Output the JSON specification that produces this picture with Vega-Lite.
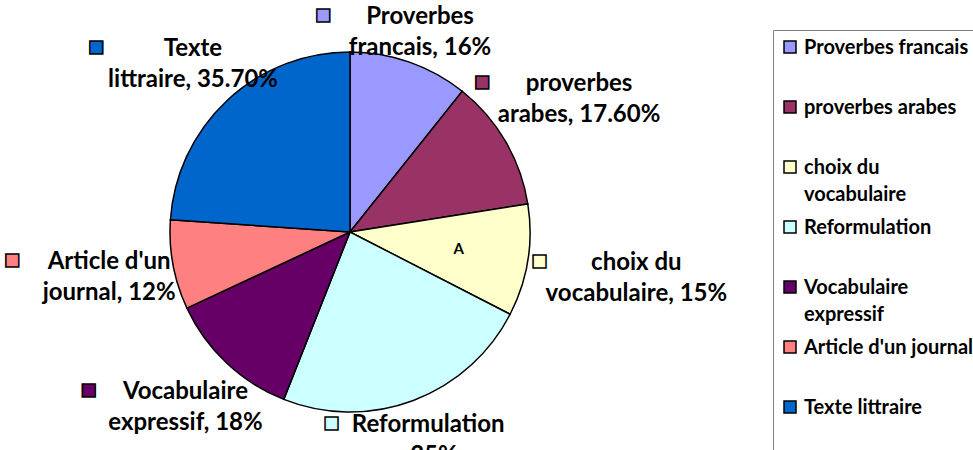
{
  "$schema": "https://vega.github.io/schema/vega-lite/v6.json",
  "width": 700,
  "height": 464,
  "padding": 0,
  "background": "white",
  "config": {"view": {"stroke": null}, "font": "Lato"},
  "data": {
    "values": [
      {"rank": 1, "cat": "Proverbes francais", "value": 16, "label": "Proverbes\nfrancais, 16%", "note": ""},
      {"rank": 2, "cat": "proverbes arabes", "value": 17.6, "label": "proverbes\narabes, 17.60%", "note": ""},
      {"rank": 3, "cat": "choix du vocabulaire", "value": 15, "label": "choix du\nvocabulaire, 15%", "note": "A"},
      {"rank": 4, "cat": "Reformulation", "value": 35, "label": "Reformulation\n, 35%", "note": ""},
      {"rank": 5, "cat": "Vocabulaire expressif", "value": 18, "label": "Vocabulaire\nexpressif, 18%", "note": ""},
      {"rank": 6, "cat": "Article d'un journal", "value": 12, "label": "Article d'un\njournal, 12%", "note": ""},
      {"rank": 7, "cat": "Texte littraire", "value": 35.7, "label": "Texte\nlittraire, 35.70%", "note": ""}
    ]
  },
  "encoding": {
    "theta": {"field": "value", "type": "quantitative", "stack": true},
    "order": {"field": "rank", "type": "ordinal"},
    "detail": {"field": "cat", "type": "nominal"}
  },
  "layer": [
    {
      "mark": {"type": "arc", "outerRadius": 180, "stroke": "black", "strokeWidth": 1.5},
      "encoding": {
        "color": {
          "field": "cat",
          "type": "nominal",
          "scale": {
            "domain": ["Proverbes francais", "proverbes arabes", "choix du vocabulaire", "Reformulation", "Vocabulaire expressif", "Article d'un journal", "Texte littraire"],
            "range": ["#9999FF", "#993366", "#FFFFCC", "#CCFFFF", "#660066", "#FF8080", "#0066CC"]
          },
          "legend": {
            "title": null,
            "orient": "none",
            "legendX": 773,
            "legendY": 30,
            "direction": "vertical",
            "symbolType": "square",
            "symbolSize": 144,
            "symbolStrokeColor": "black",
            "symbolStrokeWidth": 1.5,
            "labelFont": "Lato",
            "labelFontSize": 20,
            "labelFontWeight": "bold",
            "labelColor": "black",
            "labelLimit": 300,
            "labelOffset": 4,
            "labelBaseline": "alphabetic",
            "rowPadding": 12,
            "padding": 7,
            "strokeColor": "#808080",
            "fillColor": "white",
            "labelExpr": "datum.label == 'choix du vocabulaire' ? ['choix du', 'vocabulaire'] : datum.label == 'Vocabulaire expressif' ? ['Vocabulaire', 'expressif'] : [datum.label, '']",
            "encode": {
              "labels": {"update": {"dy": {"value": 7}, "lineHeight": {"value": 27}}},
              "symbols": {"update": {"stroke": {"value": "black"}, "strokeWidth": {"value": 1.5}, "opacity": {"value": 1}}}
            }
          }
        }
      }
    },
    {
      "mark": {"type": "text", "font": "Lato", "fontWeight": "bold", "fontSize": 24, "lineBreak": "\n", "lineHeight": 31, "align": "center", "baseline": "middle", "dy": -15, "fill": "black",
        "radius": {"expr": "datum.rank == 1 ? 212 : datum.rank == 2 ? 265 : datum.rank == 3 ? 290 : datum.rank == 4 ? 222 : datum.rank == 5 ? 240 : datum.rank == 6 ? 245 : 230"}},
      "encoding": {
        "text": {"field": "label", "type": "nominal"}
      }
    },
    {
      "mark": {"type": "text", "font": "DejaVu Sans", "fontSize": 17, "align": "center", "baseline": "middle", "dx": -97, "dy": -17, "stroke": "black", "strokeWidth": 1.5,
        "radius": {"expr": "datum.rank == 1 ? 212 : datum.rank == 2 ? 265 : datum.rank == 3 ? 290 : datum.rank == 4 ? 222 : datum.rank == 5 ? 240 : datum.rank == 6 ? 245 : 230"}},
      "encoding": {
        "text": {"value": "■"},
        "color": {"field": "cat", "type": "nominal", "legend": null}
      }
    },
    {
      "mark": {"type": "text", "font": "Lato", "fontWeight": "bold", "fontSize": 15, "radius": 110, "align": "center", "baseline": "middle", "fill": "black"},
      "encoding": {
        "text": {"field": "note", "type": "nominal"}
      }
    }
  ]
}
